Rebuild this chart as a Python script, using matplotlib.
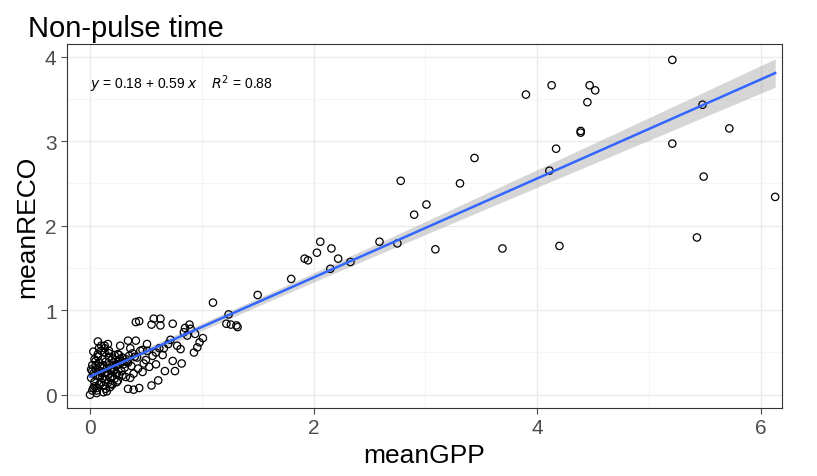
import matplotlib.pyplot as plt
import numpy as np

plt.rcParams["font.family"] = ["Liberation Sans", "DejaVu Sans"]

# sparse points (meanGPP, meanRECO)
gpp_hi = [5.21, 4.13, 4.47, 4.52, 3.90, 4.45, 5.48, 4.39, 4.39, 5.72, 4.17, 5.21, 3.44, 4.11,
          3.31, 2.78, 5.49, 6.13, 3.01, 2.90, 2.59, 2.75, 2.06, 2.16, 2.03, 1.92, 1.95, 2.33,
          2.22, 2.15, 3.09, 3.69, 4.20, 5.43, 1.80, 1.50, 1.10, 1.24, 1.26, 1.31, 1.32, 1.22]
reco_hi = [3.96, 3.66, 3.66, 3.60, 3.55, 3.46, 3.43, 3.12, 3.10, 3.15, 2.91, 2.97, 2.80, 2.65,
           2.50, 2.53, 2.58, 2.34, 2.25, 2.13, 1.81, 1.79, 1.81, 1.73, 1.68, 1.61, 1.59, 1.57,
           1.61, 1.49, 1.72, 1.73, 1.76, 1.86, 1.37, 1.18, 1.09, 0.95, 0.83, 0.82, 0.80, 0.84]
# low cluster
gpp_lo = [0.41, 0.44, 0.55, 0.57, 0.63, 0.63, 0.74, 0.89, 0.85, 0.94, 1.01, 0.98, 0.96, 0.93,
          0.81, 0.74, 0.82, 0.76, 0.67, 0.61, 0.55, 0.44, 0.39, 0.34, 0.00, 0.07, 0.13, 0.34,
          0.41, 0.51, 0.27, 0.36, 0.47, 0.51, 0.59, 0.65, 0.03, 0.10, 0.17, 0.25, 0.59, 0.53,
          0.47, 0.39, 0.32, 0.25, 0.19,
          0.02, 0.04, 0.06, 0.08, 0.10, 0.12, 0.14, 0.16, 0.18, 0.20, 0.22, 0.24, 0.26, 0.28,
          0.01, 0.03, 0.05, 0.07, 0.09, 0.11, 0.13, 0.15, 0.17, 0.19, 0.21, 0.23, 0.25, 0.30,
          0.02, 0.05, 0.08, 0.11, 0.14, 0.17, 0.20, 0.23, 0.26, 0.29, 0.32, 0.35, 0.38, 0.42,
          0.01, 0.04, 0.07, 0.10, 0.13, 0.16, 0.19, 0.22, 0.25, 0.28, 0.31, 0.34, 0.37, 0.40,
          0.03, 0.06, 0.09, 0.12, 0.15, 0.18, 0.21, 0.24, 0.27, 0.33, 0.45, 0.50, 0.56, 0.62,
          0.02, 0.05, 0.08, 0.11, 0.14, 0.17, 0.20, 0.29, 0.36, 0.43, 0.48, 0.70, 0.78, 0.87,
          0.04, 0.07, 0.10, 0.13, 0.16, 0.22, 0.12, 0.06, 0.09, 0.15, 0.66, 0.72, 0.84, 0.90]
reco_lo = [0.86, 0.87, 0.83, 0.90, 0.90, 0.82, 0.84, 0.83, 0.79, 0.72, 0.67, 0.62, 0.56, 0.50,
           0.54, 0.40, 0.37, 0.28, 0.28, 0.17, 0.11, 0.08, 0.06, 0.07, 0.00, 0.63, 0.58, 0.64,
           0.64, 0.60, 0.58, 0.55, 0.53, 0.52, 0.50, 0.47, 0.51, 0.52, 0.49, 0.48, 0.36, 0.33,
           0.27, 0.25, 0.21, 0.17, 0.13,
           0.05, 0.10, 0.08, 0.12, 0.15, 0.11, 0.18, 0.14, 0.20, 0.22, 0.19, 0.25, 0.23, 0.28,
           0.20, 0.25, 0.30, 0.22, 0.28, 0.33, 0.26, 0.31, 0.35, 0.29, 0.38, 0.34, 0.40, 0.36,
           0.35, 0.40, 0.38, 0.42, 0.39, 0.45, 0.43, 0.41, 0.47, 0.44, 0.42, 0.46, 0.49, 0.44,
           0.30, 0.15, 0.45, 0.26, 0.50, 0.24, 0.32, 0.30, 0.36, 0.38, 0.32, 0.38, 0.34, 0.45,
           0.08, 0.05, 0.22, 0.35, 0.27, 0.09, 0.28, 0.15, 0.42, 0.39, 0.52, 0.41, 0.46, 0.55,
           0.28, 0.35, 0.55, 0.20, 0.07, 0.52, 0.12, 0.23, 0.20, 0.31, 0.37, 0.60, 0.58, 0.70,
           0.42, 0.48, 0.58, 0.55, 0.60, 0.47, 0.03, 0.02, 0.33, 0.04, 0.55, 0.65, 0.74, 0.78]

x = np.array(gpp_hi + gpp_lo)
y = np.array(reco_hi + reco_lo)

fig, ax = plt.subplots(figsize=(8.17, 4.77), dpi=100)
fig.subplots_adjust(left=0.082, right=0.957, top=0.906, bottom=0.143)

# linear fit with 95% confidence band
n = len(x)
b, a = np.polyfit(x, y, 1)
xs = np.linspace(x.min(), x.max(), 100)
ys = a + b * xs
res = y - (a + b * x)
s = np.sqrt(np.sum(res ** 2) / (n - 2))
se = s * np.sqrt(1 / n + (xs - x.mean()) ** 2 / np.sum((x - x.mean()) ** 2))
ax.fill_between(xs, ys - 1.97 * se, ys + 1.97 * se, color="#999999", alpha=0.4, lw=0, zorder=2)
ax.scatter(x, y, s=28, facecolors="none", edgecolors="black", linewidths=0.9, zorder=3)
ax.plot(xs, ys, color="#3366FF", lw=1.8, zorder=4)

ax.text(0.0, 3.68, r"$y$ = 0.18 + 0.59 $x$    $R^2$ = 0.88", fontsize=10, va="center")

ax.set_xlim(-0.206, 6.19)
ax.set_ylim(-0.154, 4.15)
ax.set_xticks([0, 2, 4, 6])
ax.set_yticks([0, 1, 2, 3, 4])
ax.set_xticks([1, 3, 5], minor=True)
ax.set_yticks([0.5, 1.5, 2.5, 3.5], minor=True)
ax.grid(True, which="major", color="#EBEBEB", lw=1.0)
ax.grid(True, which="minor", color="#F3F3F3", lw=0.6)
ax.set_axisbelow(True)
ax.tick_params(which="major", labelsize=15, colors="#4D4D4D", length=4)
ax.tick_params(which="minor", length=0)
for sp in ax.spines.values():
    sp.set_color("#333333")
    sp.set_linewidth(0.8)
ax.set_xlabel("meanGPP", fontsize=19)
ax.set_ylabel("meanRECO", fontsize=19)
ax.set_title("Non-pulse time", fontsize=21, loc="left", x=-0.055)
fig.savefig("out.png")
